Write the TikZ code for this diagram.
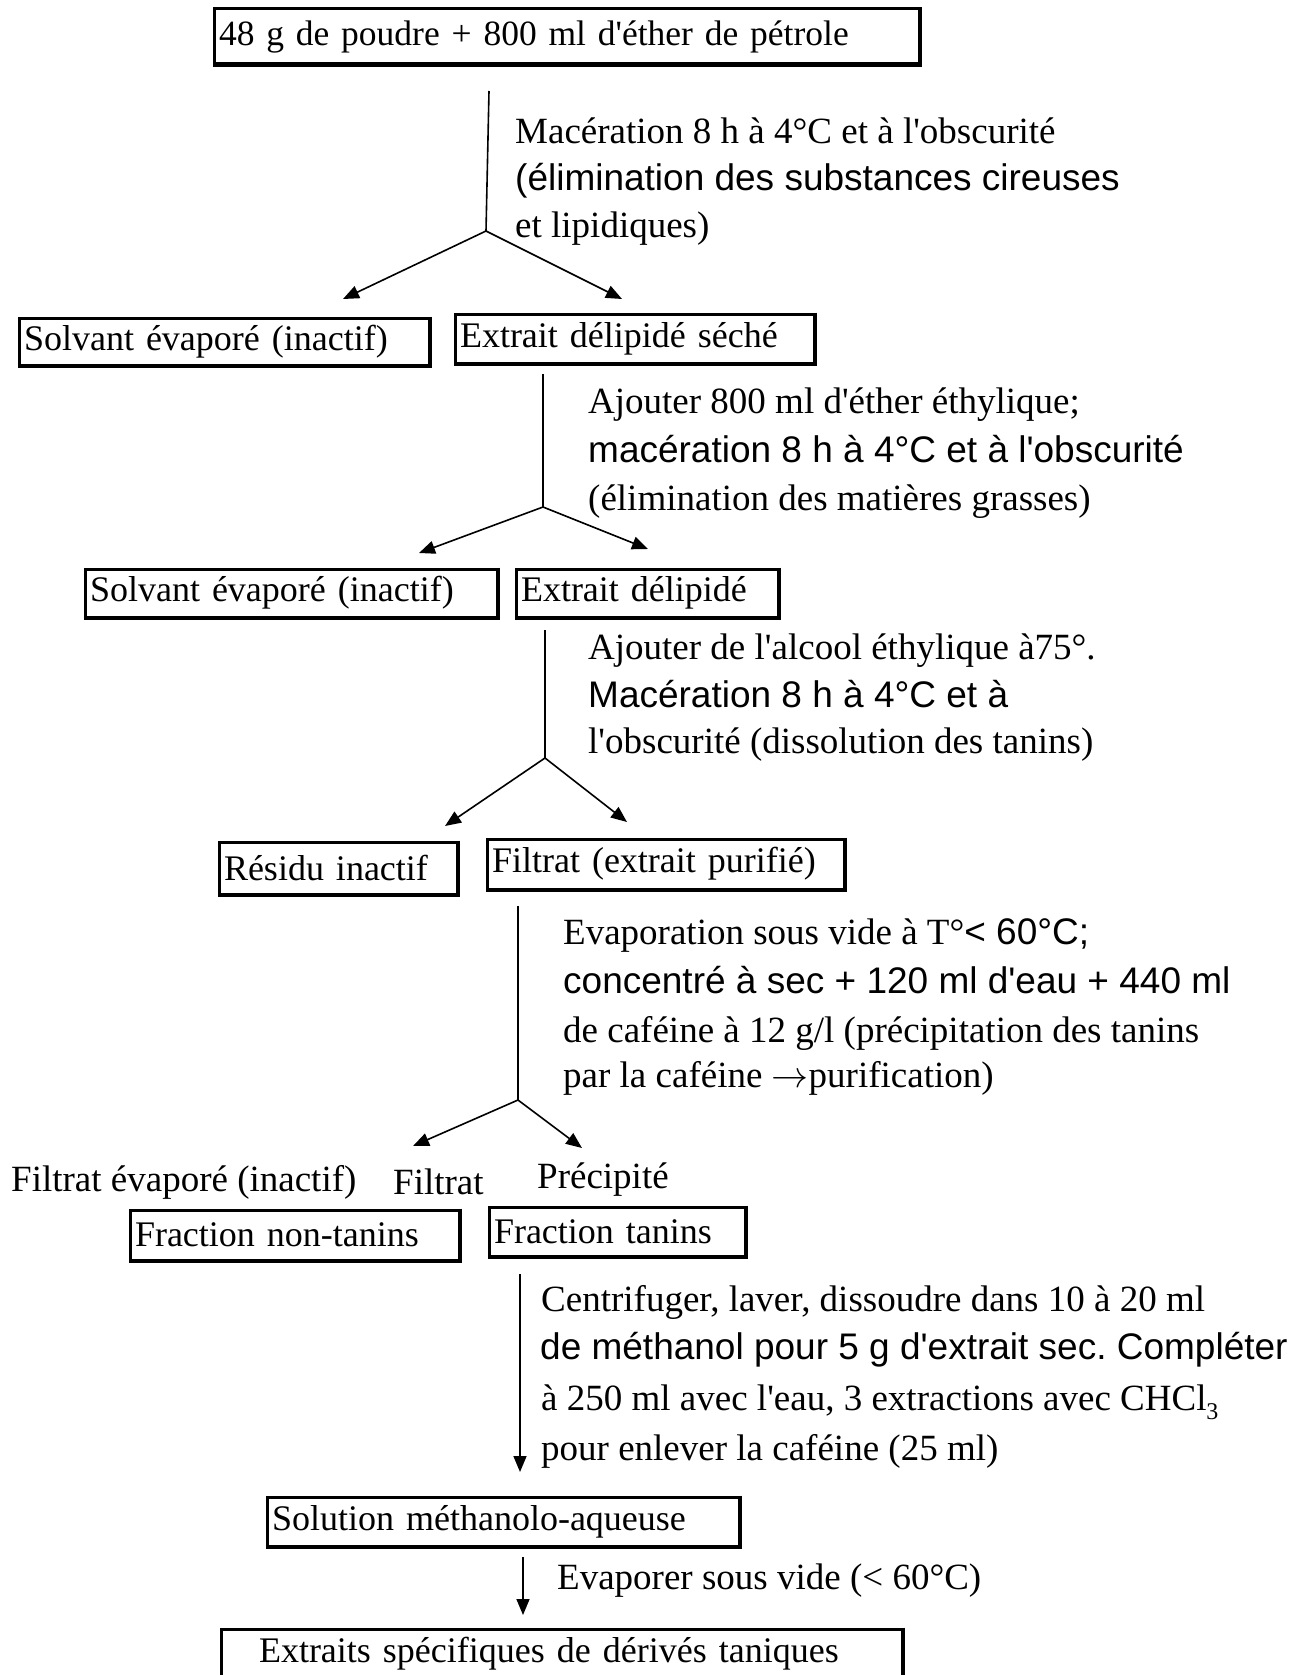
\RequirePackage{fix-cm}
\documentclass[tikz,border=0pt]{standalone}
\usepackage{fontspec}
\setmainfont{Liberation Serif}[Ligatures=TeXOff]
\newfontfamily\sansf{Liberation Sans}[Ligatures=TeXOff]
\usetikzlibrary{arrows.meta}
\begin{document}
\frenchspacing
\begin{tikzpicture}[x=1pt,y=-1pt,
  every node/.style={font=\fontsize{37}{44}\selectfont},
  box/.style={draw, line width=3pt, outer sep=0pt, anchor=north west, inner xsep=5pt, inner ysep=0pt, align=left, font=\fontsize{36}{43}\selectfont},
  lbl/.style={anchor=base west, inner sep=0pt},
  ln/.style={line width=1.6pt},
  arr/.style={line width=1.6pt, -{Triangle[length=16pt,width=13pt]}}]
\useasboundingbox (0,0) rectangle (1288,1675);

% boxes
\node[box, text width=695pt, minimum height=55pt, font=\fontsize{35.5}{42}\selectfont] (b0) at (214,9) {48 g de poudre + 800 ml d'éther de pétrole};
\node[box, text width=400pt, minimum height=47pt] (b1) at (19,318) {Solvant évaporé (inactif)};
\node[box, text width=349pt, minimum height=49pt] (b2) at (455,314) {Extrait délipidé séché};
\node[box, text width=402pt, minimum height=48pt] (b3) at (85,569) {Solvant évaporé (inactif)};
\node[box, text width=252pt, minimum height=48pt] (b4) at (516,569) {Extrait délipidé};
\node[box, text width=228pt, minimum height=52pt] (b5) at (219,842) {Résidu inactif};
\node[box, text width=347pt, minimum height=50pt] (b6) at (487,839) {Filtrat (extrait purifié)};
\node[box, text width=319pt, minimum height=50pt] (b7) at (130,1210) {Fraction non-tanins};
\node[box, text width=246pt, minimum height=49pt] (b8) at (489,1207) {Fraction tanins};
\node[box, text width=462pt, minimum height=49pt] (b9) at (267,1497) {Solution méthanolo-aqueuse};
\node[box, text width=605pt, inner xsep=38pt, minimum height=50pt] (b10) at (221,1629) {Extraits spécifiques de dérivés taniques};

\foreach \n in {b0,b1,b2,b3,b4,b5,b6,b7,b8,b9,b10}
  \draw[line width=2.4pt] ([xshift=2.2pt,yshift=1.5pt]\n.north east) -- ([xshift=2.2pt,yshift=-2.2pt]\n.south east) -- ([xshift=-1.5pt,yshift=-2.2pt]\n.south west);

% step 1
\coordinate (s1) at (489,91); \coordinate (j1) at (486,231);
\coordinate (e1l) at (343,299); \coordinate (e1r) at (622,299);
\draw[ln] (s1) -- (j1);
\draw[arr] (j1) -- (e1l);
\draw[arr] (j1) -- (e1r);
\node[lbl] (t1a) at (515,143) {Macération 8 h à 4°C et à l'obscurité};
\node[lbl] (t1b) at (515,190) {\sansf (élimination des substances cireuses};
\node[lbl] (t1c) at (515,237) {et lipidiques)};

% step 2
\coordinate (s2) at (543,374); \coordinate (j2) at (543,507);
\coordinate (e2l) at (419,553); \coordinate (e2r) at (648,549);
\draw[ln] (s2) -- (j2);
\draw[arr] (j2) -- (e2l);
\draw[arr] (j2) -- (e2r);
\node[lbl] (t2a) at (588,413) {Ajouter 800 ml d'éther éthylique;};
\node[lbl] (t2b) at (588,462) {\sansf macération 8 h à 4°C et à l'obscurité};
\node[lbl] (t2c) at (588,510) {(élimination des matières grasses)};

% step 3
\coordinate (s3) at (545,630); \coordinate (j3) at (545,758);
\coordinate (e3l) at (445,826); \coordinate (e3r) at (627,822);
\draw[ln] (s3) -- (j3);
\draw[arr] (j3) -- (e3l);
\draw[arr] (j3) -- (e3r);
\node[lbl] (t3a) at (588,659) {Ajouter de l'alcool éthylique à75°.};
\node[lbl] (t3b) at (588,707) {\sansf Macération 8 h à 4°C et à};
\node[lbl] (t3c) at (588,753) {l'obscurité (dissolution des tanins)};

% step 4
\coordinate (s4) at (518,906); \coordinate (j4) at (518,1100);
\coordinate (e4l) at (413,1146); \coordinate (e4r) at (582,1148);
\draw[ln] (s4) -- (j4);
\draw[arr] (j4) -- (e4l);
\draw[arr] (j4) -- (e4r);
\node[lbl] (t4a) at (563,944) {Evaporation sous vide à T°{\sansf < 60°C;}};
\node[lbl] (t4b) at (563,993) {\sansf concentré à sec + 120 ml d'eau + 440 ml};
\node[lbl] (t4c) at (563,1042) {de caféine à 12 g/l (précipitation des tanins};
\node[lbl] (t4d) at (563,1087) {par la caféine $\rightarrow$purification)};
\node[lbl] (f1) at (11,1191) {Filtrat évaporé (inactif)};
\node[lbl] (f2) at (393,1194) {Filtrat};
\node[lbl] (f3) at (537,1188) {Précipité};

% step 5
\coordinate (s5) at (520,1274); \coordinate (e5) at (520,1472);
\draw[arr] (s5) -- (e5);
\node[lbl] (t5a) at (541,1311) {Centrifuger, laver, dissoudre dans 10 à 20 ml};
\node[lbl] (t5b) at (540,1359) {\sansf de méthanol pour 5 g d'extrait sec. Compléter};
\node[lbl] (t5c) at (541,1410) {à 250 ml avec l'eau, 3 extractions avec CHCl\raisebox{-9pt}{\fontsize{24}{24}\selectfont 3}};
\node[lbl] (t5d) at (541,1460) {pour enlever la caféine (25 ml)};

% step 6
\coordinate (s6) at (523,1557); \coordinate (e6) at (523,1615);
\draw[arr] (s6) -- (e6);
\node[lbl] (t6) at (557,1589) {Evaporer sous vide (< 60°C)};
\end{tikzpicture}
\end{document}
